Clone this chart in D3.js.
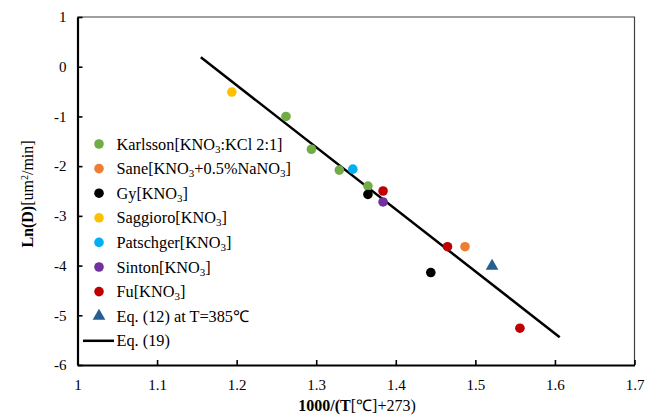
<!DOCTYPE html>
<html>
<head>
<meta charset="utf-8">
<script src="https://cdn.jsdelivr.net/npm/d3@7"></script>
<style>
  html, body { margin: 0; padding: 0; background: #fff; }
  svg text { font-family: "Liberation Serif", "Times New Roman", serif; fill: #000; }
</style>
</head>
<body>
<svg id="chart" width="647" height="418"></svg>
<script>
// Diffusion coefficient vs. inverse temperature, by source
const karlsson  = [[1.262, -1.00], [1.294, -1.66], [1.329, -2.08], [1.365, -2.40]];
const sane      = [[1.487, -3.62]];
const gy        = [[1.365, -2.57], [1.444, -4.14]];
const saggioro  = [[1.194, -0.51]];
const patschger = [[1.346, -2.06]];
const sinton    = [[1.384, -2.72]];
const fu        = [[1.384, -2.50], [1.465, -3.62], [1.556, -5.26]];
const eq12      = [[1.521, -4.01]];
// Eq. (19) fitted line end points
const eq19X = [1.155, 1.606];
const eq19Y = [0.19, -5.44];

const xTicks = [1, 1.1, 1.2, 1.3, 1.4, 1.5, 1.6, 1.7];
const yTicks = [1, 0, -1, -2, -3, -4, -5, -6];

const SERIF = "'Liberation Serif', 'Times New Roman', serif";
const svg = d3.select("#chart");
const plotL = 77.5, plotR = 634.5, plotT = 17, plotB = 365;

const x = d3.scaleLinear().domain([1, 1.7]).range([plotL, plotR]);
const y = d3.scaleLinear().domain([-6, 1]).range([plotB, plotT]);

// frame: thin top/right border
svg.append("path")
  .attr("d", `M${plotL},${plotT}H${plotR}V${plotB}`)
  .attr("fill", "none").attr("stroke", "#404040").attr("stroke-width", 1.2);

// axes with inward ticks, plain hyphen minus in labels
const fmt = d => String(d);
const xAxis = d3.axisBottom(x).tickValues(xTicks).tickSizeInner(-5).tickSizeOuter(0).tickFormat(fmt);
const gX = svg.append("g").attr("transform", `translate(0,${plotB})`).call(xAxis);
const yAxis = d3.axisLeft(y).tickValues(yTicks).tickSizeInner(-5).tickSizeOuter(0).tickFormat(fmt);
const gY = svg.append("g").attr("transform", `translate(${plotL},0)`).call(yAxis);

[gX, gY].forEach(g => {
  g.attr("font-family", SERIF).attr("font-size", 15);
  g.select(".domain").attr("stroke", "#000").attr("stroke-width", 2.2);
  g.selectAll(".tick line").attr("stroke", "#000").attr("stroke-width", 1.6);
  g.selectAll(".tick text").style("font-family", SERIF).style("font-size", "15px").attr("fill", "#000");
});
gY.selectAll(".tick text").attr("x", -11);
gX.selectAll(".tick text").attr("y", 14);

// axis titles
const xt = svg.append("text").attr("x", 357).attr("y", 411).attr("text-anchor", "middle")
  .style("font-family", SERIF).style("font-size", "16px");
xt.append("tspan").attr("font-weight", "bold").text("1000/(T");
xt.append("tspan").text("[℃]+273)");

const yt = svg.append("text").attr("transform", "translate(33,194) rotate(-90)")
  .attr("text-anchor", "middle").style("font-family", SERIF).style("font-size", "16px");
yt.append("tspan").attr("font-weight", "bold").text("Ln(D)");
yt.append("tspan").text("[um");
yt.append("tspan").attr("baseline-shift", "super").style("font-size", "10px").text("2");
yt.append("tspan").text("/min]");

// Eq. (19) line
const line = d3.line().x(d => x(d[0])).y(d => y(d[1]));
svg.append("path").datum(eq19X.map((v, i) => [v, eq19Y[i]]))
  .attr("d", line).attr("fill", "none").attr("stroke", "#000").attr("stroke-width", 2.5);

const dotSeries = [
  { data: karlsson,  color: "#70AD47" },
  { data: sane,      color: "#ED7D31" },
  { data: gy,        color: "#000000" },
  { data: saggioro,  color: "#FFC000" },
  { data: patschger, color: "#00B0F0" },
  { data: sinton,    color: "#7030A0" },
  { data: fu,        color: "#C00000" }
];
dotSeries.forEach(s => {
  svg.append("g").selectAll("circle").data(s.data).join("circle")
    .attr("cx", d => x(d[0])).attr("cy", d => y(d[1])).attr("r", 4.8)
    .attr("fill", s.color);
});

const tri = d3.symbol().type(d3.symbolTriangle).size(70);
const triColor = "#255E91";
svg.append("g").selectAll("path").data(eq12).join("path")
  .attr("d", tri).attr("transform", d => `translate(${x(d[0])},${y(d[1])})`)
  .attr("fill", triColor);

// legend
const legendItems = [
  { kind: "dot", color: "#70AD47", parts: [["Karlsson[KNO"], ["3", "sub"], [":KCl 2:1]"]] },
  { kind: "dot", color: "#ED7D31", parts: [["Sane[KNO"], ["3", "sub"], ["+0.5%NaNO"], ["3", "sub"], ["]"]] },
  { kind: "dot", color: "#000000", parts: [["Gy[KNO"], ["3", "sub"], ["]"]] },
  { kind: "dot", color: "#FFC000", parts: [["Saggioro[KNO"], ["3", "sub"], ["]"]] },
  { kind: "dot", color: "#00B0F0", parts: [["Patschger[KNO"], ["3", "sub"], ["]"]] },
  { kind: "dot", color: "#7030A0", parts: [["Sinton[KNO"], ["3", "sub"], ["]"]] },
  { kind: "dot", color: "#C00000", parts: [["Fu[KNO"], ["3", "sub"], ["]"]] },
  { kind: "tri", color: triColor, parts: [["Eq. (12) at T=385℃"]] },
  { kind: "line", color: "#000", parts: [["Eq. (19)"]] }
];
const lg = svg.append("g");
legendItems.forEach((it, i) => {
  const cy = 144 + i * 24.6;
  if (it.kind === "dot") {
    lg.append("circle").attr("cx", 99).attr("cy", cy).attr("r", 4.8).attr("fill", it.color);
  } else if (it.kind === "tri") {
    lg.append("path").attr("d", tri).attr("transform", `translate(99,${cy})`).attr("fill", it.color);
  } else {
    lg.append("line").attr("x1", 83).attr("x2", 114).attr("y1", cy).attr("y2", cy)
      .attr("stroke", it.color).attr("stroke-width", 2.5);
  }
  const t = lg.append("text").attr("x", 116.5).attr("y", cy + 5.5)
    .style("font-family", SERIF).style("font-size", "16.3px");
  it.parts.forEach((p, j) => {
    const ts = t.append("tspan").text(p[0]);
    if (p[1] === "sub") ts.style("font-size", "11px").attr("dy", 3);
    else if (j > 0) ts.attr("dy", -3);
  });
});
</script>
</body>
</html>
